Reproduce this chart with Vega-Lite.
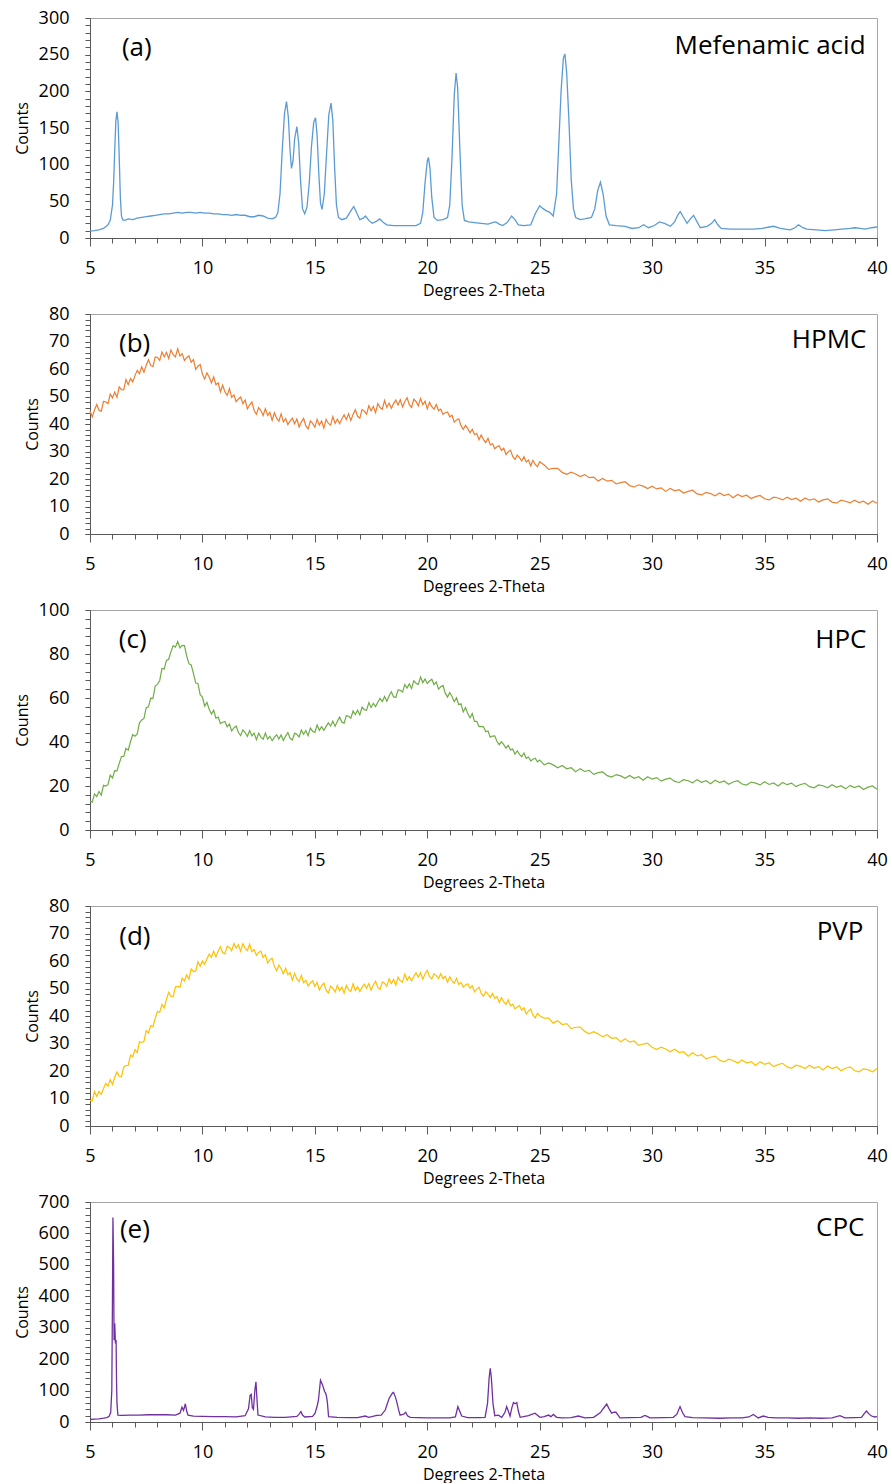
{
"$schema": "https://vega.github.io/schema/vega-lite/v6.json",
"background": "white",
"padding": {"left": 13, "top": 8, "right": 12, "bottom": 0},
"spacing": 5,
"config": {
 "font": "Open Sans",
 "view": {"stroke": "#A6A6A6", "strokeWidth": 1},
 "axis": {"domainColor": "#595959", "tickColor": "#595959", "labelColor": "#000000", "titleColor": "#000000", "labelFont": "Open Sans", "titleFont": "Open Sans", "labelFontSize": 18, "titleFontSize": 16, "titleFontWeight": "normal", "grid": false, "labelOverlap": false, "labelFlush": false, "labelBound": false, "domainWidth": 1, "tickWidth": 1},
 "axisY": {"labelPadding": 16, "titlePadding": 8, "tickSize": 5},
 "axisX": {"labelPadding": 13, "titlePadding": 5},
 "text": {"font": "Open Sans", "color": "#000000", "fontSize": 26}
},
"datasets": {
 "a": [{"x":5.0,"y":9.5},{"x":5.2,"y":10},{"x":5.4,"y":11},{"x":5.6,"y":13},{"x":5.8,"y":18},{"x":5.9,"y":24},{"x":6.0,"y":45},{"x":6.05,"y":75},{"x":6.1,"y":120},{"x":6.15,"y":160},{"x":6.2,"y":172},{"x":6.25,"y":158},{"x":6.3,"y":110},{"x":6.35,"y":55},{"x":6.4,"y":30},{"x":6.45,"y":25},{"x":6.55,"y":24},{"x":6.7,"y":26},{"x":6.9,"y":25},{"x":7.1,"y":27},{"x":7.3,"y":28},{"x":7.5,"y":29},{"x":7.7,"y":30},{"x":7.9,"y":31},{"x":8.1,"y":32},{"x":8.3,"y":33},{"x":8.5,"y":33},{"x":8.7,"y":34},{"x":8.9,"y":35},{"x":9.1,"y":34},{"x":9.3,"y":35},{"x":9.5,"y":35},{"x":9.7,"y":34},{"x":9.9,"y":35},{"x":10.1,"y":34},{"x":10.3,"y":34},{"x":10.5,"y":33},{"x":10.7,"y":33},{"x":10.9,"y":32},{"x":11.1,"y":32},{"x":11.3,"y":31},{"x":11.5,"y":32},{"x":11.7,"y":31},{"x":11.9,"y":31},{"x":12.1,"y":29},{"x":12.3,"y":29},{"x":12.5,"y":31},{"x":12.7,"y":30},{"x":12.9,"y":27},{"x":13.1,"y":26},{"x":13.25,"y":28},{"x":13.35,"y":34},{"x":13.45,"y":60},{"x":13.55,"y":120},{"x":13.65,"y":170},{"x":13.74,"y":186},{"x":13.82,"y":165},{"x":13.9,"y":118},{"x":13.96,"y":95},{"x":14.03,"y":105},{"x":14.1,"y":135},{"x":14.2,"y":152},{"x":14.28,"y":130},{"x":14.36,"y":80},{"x":14.45,"y":40},{"x":14.55,"y":33},{"x":14.65,"y":42},{"x":14.75,"y":75},{"x":14.85,"y":125},{"x":14.95,"y":158},{"x":15.03,"y":164},{"x":15.1,"y":140},{"x":15.18,"y":85},{"x":15.25,"y":48},{"x":15.32,"y":39},{"x":15.42,"y":60},{"x":15.52,"y":115},{"x":15.62,"y":168},{"x":15.72,"y":184},{"x":15.8,"y":160},{"x":15.88,"y":95},{"x":15.96,"y":45},{"x":16.05,"y":28},{"x":16.2,"y":25},{"x":16.4,"y":27},{"x":16.6,"y":37},{"x":16.73,"y":43},{"x":16.85,"y":35},{"x":17.0,"y":25},{"x":17.15,"y":27},{"x":17.25,"y":30},{"x":17.4,"y":24},{"x":17.55,"y":20},{"x":17.75,"y":23},{"x":17.89,"y":26},{"x":18.05,"y":21},{"x":18.2,"y":18},{"x":18.5,"y":17},{"x":19.0,"y":17},{"x":19.5,"y":17},{"x":19.7,"y":20},{"x":19.8,"y":35},{"x":19.9,"y":75},{"x":20.0,"y":105},{"x":20.05,"y":110},{"x":20.12,"y":95},{"x":20.2,"y":55},{"x":20.3,"y":28},{"x":20.45,"y":24},{"x":20.7,"y":25},{"x":20.9,"y":28},{"x":21.0,"y":45},{"x":21.1,"y":110},{"x":21.2,"y":195},{"x":21.28,"y":225},{"x":21.35,"y":205},{"x":21.45,"y":120},{"x":21.55,"y":45},{"x":21.65,"y":24},{"x":21.85,"y":22},{"x":22.1,"y":21},{"x":22.4,"y":20},{"x":22.7,"y":19},{"x":22.9,"y":21},{"x":23.05,"y":22},{"x":23.2,"y":19},{"x":23.35,"y":17},{"x":23.55,"y":21},{"x":23.75,"y":30},{"x":23.9,"y":25},{"x":24.05,"y":18},{"x":24.3,"y":17},{"x":24.6,"y":18},{"x":24.8,"y":33},{"x":25.0,"y":44},{"x":25.15,"y":40},{"x":25.3,"y":37},{"x":25.45,"y":35},{"x":25.6,"y":30},{"x":25.75,"y":60},{"x":25.85,"y":130},{"x":25.95,"y":200},{"x":26.05,"y":245},{"x":26.12,"y":251},{"x":26.2,"y":225},{"x":26.3,"y":160},{"x":26.4,"y":80},{"x":26.5,"y":40},{"x":26.6,"y":28},{"x":26.8,"y":25},{"x":27.0,"y":26},{"x":27.3,"y":28},{"x":27.45,"y":40},{"x":27.58,"y":65},{"x":27.7,"y":76},{"x":27.82,"y":60},{"x":27.95,"y":30},{"x":28.1,"y":18},{"x":28.4,"y":17},{"x":28.8,"y":16},{"x":29.1,"y":13},{"x":29.4,"y":14},{"x":29.62,"y":18},{"x":29.84,"y":14},{"x":30.1,"y":17},{"x":30.32,"y":22},{"x":30.55,"y":20},{"x":30.81,"y":16},{"x":31.0,"y":22},{"x":31.15,"y":32},{"x":31.25,"y":36},{"x":31.4,"y":28},{"x":31.55,"y":20},{"x":31.7,"y":26},{"x":31.84,"y":31},{"x":32.0,"y":22},{"x":32.14,"y":14},{"x":32.44,"y":16},{"x":32.65,"y":20},{"x":32.78,"y":25},{"x":32.92,"y":18},{"x":33.07,"y":13},{"x":33.5,"y":12},{"x":34.0,"y":12},{"x":34.5,"y":12},{"x":34.9,"y":13},{"x":35.2,"y":15},{"x":35.4,"y":16},{"x":35.7,"y":13},{"x":36.14,"y":11},{"x":36.35,"y":14},{"x":36.51,"y":18},{"x":36.7,"y":14},{"x":36.88,"y":12},{"x":37.3,"y":11},{"x":37.7,"y":10},{"x":38.1,"y":11},{"x":38.44,"y":12},{"x":38.8,"y":13},{"x":39.03,"y":14},{"x":39.25,"y":13},{"x":39.48,"y":12},{"x":39.75,"y":14},{"x":40.0,"y":15}],
 "b": [{"x":5.0,"y":44.7},{"x":5.1,"y":42.6},{"x":5.2,"y":45.1},{"x":5.3,"y":47.1},{"x":5.4,"y":45.0},{"x":5.5,"y":44.6},{"x":5.6,"y":48.2},{"x":5.7,"y":48.1},{"x":5.8,"y":47.4},{"x":5.9,"y":50.9},{"x":6.0,"y":49.5},{"x":6.1,"y":51.6},{"x":6.2,"y":49.7},{"x":6.3,"y":53.5},{"x":6.4,"y":52.5},{"x":6.5,"y":52.4},{"x":6.6,"y":56.2},{"x":6.7,"y":54.3},{"x":6.8,"y":56.5},{"x":6.9,"y":55.3},{"x":7.0,"y":57.6},{"x":7.1,"y":59.5},{"x":7.2,"y":58.3},{"x":7.3,"y":60.8},{"x":7.4,"y":58.8},{"x":7.5,"y":61.4},{"x":7.6,"y":63.4},{"x":7.7,"y":61.3},{"x":7.8,"y":60.9},{"x":7.9,"y":64.4},{"x":8.0,"y":64.2},{"x":8.1,"y":63.1},{"x":8.2,"y":66.2},{"x":8.3,"y":64.4},{"x":8.4,"y":66.1},{"x":8.5,"y":63.8},{"x":8.6,"y":66.9},{"x":8.7,"y":65.2},{"x":8.8,"y":64.4},{"x":8.9,"y":67.4},{"x":9.0,"y":64.7},{"x":9.1,"y":65.6},{"x":9.2,"y":63.1},{"x":9.3,"y":64.1},{"x":9.4,"y":64.8},{"x":9.5,"y":62.4},{"x":9.6,"y":63.4},{"x":9.7,"y":59.9},{"x":9.8,"y":61.0},{"x":9.9,"y":61.6},{"x":10.0,"y":58.1},{"x":10.1,"y":56.4},{"x":10.2,"y":58.6},{"x":10.3,"y":57.1},{"x":10.4,"y":55.0},{"x":10.5,"y":57.1},{"x":10.6,"y":54.3},{"x":10.7,"y":55.0},{"x":10.8,"y":51.7},{"x":10.9,"y":54.1},{"x":11.0,"y":51.7},{"x":11.1,"y":50.4},{"x":11.2,"y":52.9},{"x":11.3,"y":49.7},{"x":11.4,"y":50.6},{"x":11.5,"y":48.1},{"x":11.6,"y":49.1},{"x":11.7,"y":49.8},{"x":11.8,"y":47.4},{"x":11.9,"y":48.7},{"x":12.0,"y":45.5},{"x":12.1,"y":47.0},{"x":12.2,"y":48.0},{"x":12.3,"y":44.9},{"x":12.4,"y":43.5},{"x":12.5,"y":46.0},{"x":12.6,"y":44.9},{"x":12.7,"y":43.1},{"x":12.8,"y":45.6},{"x":12.9,"y":43.1},{"x":13.0,"y":44.2},{"x":13.1,"y":41.3},{"x":13.2,"y":44.1},{"x":13.3,"y":42.1},{"x":13.4,"y":41.0},{"x":13.5,"y":43.7},{"x":13.6,"y":40.8},{"x":13.7,"y":42.0},{"x":13.8,"y":39.8},{"x":13.9,"y":41.1},{"x":14.0,"y":42.1},{"x":14.1,"y":40.1},{"x":14.2,"y":41.8},{"x":14.3,"y":38.9},{"x":14.4,"y":40.7},{"x":14.5,"y":42.0},{"x":14.6,"y":39.3},{"x":14.7,"y":38.2},{"x":14.8,"y":41.1},{"x":14.9,"y":40.2},{"x":15.0,"y":38.8},{"x":15.1,"y":41.7},{"x":15.2,"y":39.6},{"x":15.3,"y":41.1},{"x":15.4,"y":38.5},{"x":15.5,"y":41.7},{"x":15.6,"y":40.2},{"x":15.7,"y":39.6},{"x":15.8,"y":42.7},{"x":15.9,"y":40.2},{"x":16.0,"y":41.8},{"x":16.1,"y":40.1},{"x":16.2,"y":41.8},{"x":16.3,"y":43.3},{"x":16.4,"y":41.6},{"x":16.5,"y":43.7},{"x":16.6,"y":41.3},{"x":16.7,"y":43.5},{"x":16.8,"y":45.2},{"x":16.9,"y":42.8},{"x":17.0,"y":42.1},{"x":17.1,"y":45.3},{"x":17.2,"y":44.7},{"x":17.3,"y":43.6},{"x":17.4,"y":46.6},{"x":17.5,"y":44.8},{"x":17.6,"y":46.4},{"x":17.7,"y":44.1},{"x":17.8,"y":47.4},{"x":17.9,"y":46.0},{"x":18.0,"y":45.4},{"x":18.1,"y":48.6},{"x":18.2,"y":46.0},{"x":18.3,"y":47.6},{"x":18.4,"y":45.7},{"x":18.5,"y":47.4},{"x":18.6,"y":48.7},{"x":18.7,"y":46.9},{"x":18.8,"y":48.8},{"x":18.9,"y":46.2},{"x":19.0,"y":48.2},{"x":19.1,"y":49.6},{"x":19.2,"y":47.0},{"x":19.3,"y":46.0},{"x":19.4,"y":49.0},{"x":19.5,"y":48.2},{"x":19.6,"y":46.6},{"x":19.7,"y":49.3},{"x":19.8,"y":47.0},{"x":19.9,"y":48.3},{"x":20.0,"y":45.5},{"x":20.1,"y":47.9},{"x":20.2,"y":46.3},{"x":20.3,"y":45.4},{"x":20.4,"y":47.1},{"x":20.5,"y":44.9},{"x":20.6,"y":45.4},{"x":20.7,"y":43.5},{"x":20.8,"y":44.1},{"x":20.9,"y":44.4},{"x":21.0,"y":42.6},{"x":21.1,"y":43.2},{"x":21.2,"y":40.7},{"x":21.3,"y":41.5},{"x":21.4,"y":41.9},{"x":21.5,"y":39.4},{"x":21.6,"y":38.1},{"x":21.7,"y":39.5},{"x":21.8,"y":38.3},{"x":21.9,"y":36.8},{"x":22.0,"y":38.1},{"x":22.1,"y":36.1},{"x":22.2,"y":36.6},{"x":22.3,"y":34.3},{"x":22.4,"y":36.0},{"x":22.5,"y":34.3},{"x":22.6,"y":33.2},{"x":22.7,"y":34.8},{"x":22.8,"y":32.4},{"x":22.9,"y":32.9},{"x":23.0,"y":31.0},{"x":23.1,"y":31.7},{"x":23.2,"y":32.1},{"x":23.3,"y":30.4},{"x":23.4,"y":31.2},{"x":23.5,"y":28.9},{"x":23.6,"y":29.9},{"x":23.7,"y":30.5},{"x":23.8,"y":28.2},{"x":23.9,"y":27.1},{"x":24.0,"y":28.7},{"x":24.1,"y":27.8},{"x":24.2,"y":26.5},{"x":24.3,"y":28.1},{"x":24.4,"y":26.2},{"x":24.5,"y":26.9},{"x":24.6,"y":24.8},{"x":24.7,"y":26.8},{"x":24.8,"y":25.3},{"x":24.9,"y":24.5},{"x":25.0,"y":26.3},{"x":25.2,"y":25.1},{"x":25.4,"y":23.5},{"x":25.6,"y":23.9},{"x":25.8,"y":23.9},{"x":26.0,"y":22.4},{"x":26.2,"y":21.7},{"x":26.4,"y":22.5},{"x":26.6,"y":21.8},{"x":26.8,"y":20.9},{"x":27.0,"y":21.6},{"x":27.2,"y":20.5},{"x":27.4,"y":20.7},{"x":27.6,"y":19.3},{"x":27.8,"y":20.2},{"x":28.0,"y":19.2},{"x":28.2,"y":19.5},{"x":28.4,"y":18.2},{"x":28.6,"y":18.7},{"x":28.8,"y":19.0},{"x":29.0,"y":17.6},{"x":29.2,"y":17.1},{"x":29.4,"y":17.9},{"x":29.6,"y":17.4},{"x":29.8,"y":16.5},{"x":30.0,"y":17.4},{"x":30.2,"y":16.4},{"x":30.4,"y":16.8},{"x":30.6,"y":15.5},{"x":30.8,"y":16.6},{"x":31.0,"y":15.7},{"x":31.2,"y":16.1},{"x":31.4,"y":14.9},{"x":31.6,"y":15.5},{"x":31.8,"y":15.9},{"x":32.0,"y":14.6},{"x":32.2,"y":14.2},{"x":32.4,"y":15.1},{"x":32.6,"y":14.7},{"x":32.8,"y":13.9},{"x":33.0,"y":14.9},{"x":33.2,"y":14.0},{"x":33.4,"y":14.5},{"x":33.6,"y":13.2},{"x":33.8,"y":14.4},{"x":34.0,"y":13.6},{"x":34.2,"y":14.1},{"x":34.4,"y":12.9},{"x":34.6,"y":13.6},{"x":34.8,"y":14.0},{"x":35.0,"y":12.8},{"x":35.2,"y":12.4},{"x":35.4,"y":13.4},{"x":35.6,"y":13.1},{"x":35.8,"y":12.4},{"x":36.0,"y":13.4},{"x":36.2,"y":12.5},{"x":36.4,"y":13.0},{"x":36.6,"y":11.9},{"x":36.8,"y":13.1},{"x":37.0,"y":12.3},{"x":37.2,"y":12.8},{"x":37.4,"y":11.6},{"x":37.6,"y":12.4},{"x":37.8,"y":12.8},{"x":38.0,"y":11.6},{"x":38.2,"y":11.2},{"x":38.4,"y":12.3},{"x":38.6,"y":11.9},{"x":38.8,"y":11.3},{"x":39.0,"y":12.3},{"x":39.2,"y":11.4},{"x":39.4,"y":11.9},{"x":39.6,"y":10.8},{"x":39.8,"y":12.0},{"x":40.0,"y":11.2}],
 "c": [{"x":5.0,"y":13.2},{"x":5.1,"y":12.7},{"x":5.2,"y":16.4},{"x":5.3,"y":15.2},{"x":5.4,"y":17.5},{"x":5.5,"y":15.8},{"x":5.6,"y":20.3},{"x":5.7,"y":20.0},{"x":5.8,"y":20.6},{"x":5.9,"y":25.0},{"x":6.0,"y":23.7},{"x":6.1,"y":27.0},{"x":6.2,"y":26.9},{"x":6.3,"y":30.3},{"x":6.4,"y":33.4},{"x":6.5,"y":33.4},{"x":6.6,"y":37.1},{"x":6.7,"y":36.3},{"x":6.8,"y":40.1},{"x":6.9,"y":43.4},{"x":7.0,"y":42.6},{"x":7.1,"y":43.7},{"x":7.2,"y":48.7},{"x":7.3,"y":50.0},{"x":7.4,"y":50.7},{"x":7.5,"y":55.6},{"x":7.6,"y":56.0},{"x":7.7,"y":59.9},{"x":7.8,"y":59.8},{"x":7.9,"y":65.4},{"x":8.0,"y":66.2},{"x":8.1,"y":67.9},{"x":8.2,"y":73.4},{"x":8.3,"y":73.2},{"x":8.4,"y":77.1},{"x":8.5,"y":77.6},{"x":8.6,"y":81.1},{"x":8.7,"y":83.8},{"x":8.8,"y":83.1},{"x":8.9,"y":85.7},{"x":9.0,"y":82.8},{"x":9.1,"y":83.9},{"x":9.2,"y":83.8},{"x":9.3,"y":79.1},{"x":9.4,"y":75.6},{"x":9.5,"y":75.0},{"x":9.6,"y":71.2},{"x":9.7,"y":66.8},{"x":9.8,"y":66.6},{"x":9.9,"y":61.5},{"x":10.0,"y":60.4},{"x":10.1,"y":56.3},{"x":10.2,"y":58.0},{"x":10.3,"y":54.9},{"x":10.4,"y":52.7},{"x":10.5,"y":54.4},{"x":10.6,"y":50.8},{"x":10.7,"y":51.3},{"x":10.8,"y":48.4},{"x":10.9,"y":49.0},{"x":11.0,"y":49.3},{"x":11.1,"y":46.9},{"x":11.2,"y":48.2},{"x":11.3,"y":45.0},{"x":11.4,"y":46.4},{"x":11.5,"y":47.3},{"x":11.6,"y":44.3},{"x":11.7,"y":42.9},{"x":11.8,"y":45.5},{"x":11.9,"y":44.3},{"x":12.0,"y":42.6},{"x":12.1,"y":45.2},{"x":12.2,"y":42.8},{"x":12.3,"y":44.0},{"x":12.4,"y":41.1},{"x":12.5,"y":44.0},{"x":12.6,"y":42.2},{"x":12.7,"y":41.3},{"x":12.8,"y":44.1},{"x":12.9,"y":41.3},{"x":13.0,"y":42.6},{"x":13.1,"y":40.6},{"x":13.2,"y":42.1},{"x":13.3,"y":43.3},{"x":13.4,"y":41.4},{"x":13.5,"y":43.2},{"x":13.6,"y":40.7},{"x":13.7,"y":42.7},{"x":13.8,"y":44.3},{"x":13.9,"y":41.7},{"x":14.0,"y":40.9},{"x":14.1,"y":44.0},{"x":14.2,"y":43.5},{"x":14.3,"y":42.3},{"x":14.4,"y":45.4},{"x":14.5,"y":43.5},{"x":14.6,"y":45.2},{"x":14.7,"y":42.9},{"x":14.8,"y":46.3},{"x":14.9,"y":44.9},{"x":15.0,"y":44.4},{"x":15.1,"y":47.7},{"x":15.2,"y":45.3},{"x":15.3,"y":47.0},{"x":15.4,"y":45.3},{"x":15.5,"y":47.1},{"x":15.6,"y":48.7},{"x":15.7,"y":47.2},{"x":15.8,"y":49.4},{"x":15.9,"y":47.1},{"x":16.0,"y":49.4},{"x":16.1,"y":51.3},{"x":16.2,"y":49.1},{"x":16.3,"y":48.6},{"x":16.4,"y":52.0},{"x":16.5,"y":51.7},{"x":16.6,"y":50.8},{"x":16.7,"y":54.1},{"x":16.8,"y":52.5},{"x":16.9,"y":54.4},{"x":17.0,"y":52.3},{"x":17.1,"y":55.9},{"x":17.2,"y":54.7},{"x":17.3,"y":54.4},{"x":17.4,"y":57.9},{"x":17.5,"y":55.7},{"x":17.6,"y":57.6},{"x":17.7,"y":56.1},{"x":17.8,"y":58.1},{"x":17.9,"y":59.8},{"x":18.0,"y":58.4},{"x":18.1,"y":60.7},{"x":18.2,"y":58.5},{"x":18.3,"y":60.9},{"x":18.4,"y":62.8},{"x":18.5,"y":60.6},{"x":18.6,"y":60.2},{"x":18.7,"y":63.7},{"x":18.8,"y":63.5},{"x":18.9,"y":62.7},{"x":19.0,"y":66.1},{"x":19.1,"y":64.5},{"x":19.2,"y":66.4},{"x":19.3,"y":64.3},{"x":19.4,"y":67.9},{"x":19.5,"y":66.7},{"x":19.6,"y":66.2},{"x":19.7,"y":69.5},{"x":19.8,"y":67.0},{"x":19.9,"y":68.6},{"x":20.0,"y":66.6},{"x":20.1,"y":67.7},{"x":20.2,"y":68.5},{"x":20.3,"y":66.1},{"x":20.4,"y":67.3},{"x":20.5,"y":64.0},{"x":20.6,"y":65.1},{"x":20.7,"y":65.7},{"x":20.8,"y":62.2},{"x":20.9,"y":60.4},{"x":21.0,"y":62.5},{"x":21.1,"y":60.7},{"x":21.2,"y":58.3},{"x":21.3,"y":60.1},{"x":21.4,"y":57.0},{"x":21.5,"y":57.4},{"x":21.6,"y":53.7},{"x":21.7,"y":55.7},{"x":21.8,"y":52.9},{"x":21.9,"y":51.0},{"x":22.0,"y":52.9},{"x":22.1,"y":49.4},{"x":22.2,"y":49.4},{"x":22.3,"y":47.0},{"x":22.4,"y":47.1},{"x":22.5,"y":46.9},{"x":22.6,"y":44.7},{"x":22.7,"y":45.0},{"x":22.8,"y":42.2},{"x":22.9,"y":42.7},{"x":23.0,"y":42.8},{"x":23.1,"y":40.2},{"x":23.2,"y":38.8},{"x":23.3,"y":40.1},{"x":23.4,"y":38.8},{"x":23.5,"y":37.2},{"x":23.6,"y":38.5},{"x":23.7,"y":36.4},{"x":23.8,"y":36.8},{"x":23.9,"y":34.4},{"x":24.0,"y":36.0},{"x":24.1,"y":34.4},{"x":24.2,"y":33.3},{"x":24.3,"y":35.0},{"x":24.4,"y":32.6},{"x":24.5,"y":33.2},{"x":24.6,"y":31.4},{"x":24.7,"y":32.2},{"x":24.8,"y":32.6},{"x":24.9,"y":31.0},{"x":25.0,"y":31.8},{"x":25.2,"y":29.6},{"x":25.4,"y":30.5},{"x":25.6,"y":29.6},{"x":25.8,"y":28.3},{"x":26.0,"y":29.3},{"x":26.2,"y":27.8},{"x":26.4,"y":28.3},{"x":26.6,"y":26.5},{"x":26.8,"y":27.9},{"x":27.0,"y":26.6},{"x":27.2,"y":27.1},{"x":27.4,"y":25.3},{"x":27.6,"y":26.1},{"x":27.8,"y":26.4},{"x":28.0,"y":24.7},{"x":28.2,"y":24.1},{"x":28.4,"y":25.2},{"x":28.6,"y":24.6},{"x":28.8,"y":23.5},{"x":29.0,"y":24.8},{"x":29.2,"y":23.5},{"x":29.4,"y":24.2},{"x":29.6,"y":22.6},{"x":29.8,"y":24.2},{"x":30.0,"y":23.1},{"x":30.2,"y":23.8},{"x":30.4,"y":22.2},{"x":30.6,"y":23.1},{"x":30.8,"y":23.6},{"x":31.0,"y":22.1},{"x":31.2,"y":21.6},{"x":31.4,"y":22.9},{"x":31.6,"y":22.4},{"x":31.8,"y":21.5},{"x":32.0,"y":22.9},{"x":32.2,"y":21.7},{"x":32.4,"y":22.4},{"x":32.6,"y":21.0},{"x":32.8,"y":22.6},{"x":33.0,"y":21.6},{"x":33.2,"y":22.3},{"x":33.4,"y":20.8},{"x":33.6,"y":21.8},{"x":33.8,"y":22.4},{"x":34.0,"y":20.9},{"x":34.2,"y":20.4},{"x":34.4,"y":21.8},{"x":34.6,"y":21.3},{"x":34.8,"y":20.5},{"x":35.0,"y":21.9},{"x":35.2,"y":20.7},{"x":35.4,"y":21.4},{"x":35.6,"y":20.0},{"x":35.8,"y":21.6},{"x":36.0,"y":20.6},{"x":36.2,"y":21.3},{"x":36.4,"y":19.7},{"x":36.6,"y":20.7},{"x":36.8,"y":21.2},{"x":37.0,"y":19.7},{"x":37.2,"y":19.2},{"x":37.4,"y":20.5},{"x":37.6,"y":20.1},{"x":37.8,"y":19.2},{"x":38.0,"y":20.6},{"x":38.2,"y":19.4},{"x":38.4,"y":20.1},{"x":38.6,"y":18.7},{"x":38.8,"y":20.3},{"x":39.0,"y":19.3},{"x":39.2,"y":20.0},{"x":39.4,"y":18.4},{"x":39.6,"y":19.5},{"x":39.8,"y":20.0},{"x":40.0,"y":18.5}],
 "d": [{"x":5.0,"y":9.2},{"x":5.1,"y":9.2},{"x":5.2,"y":12.5},{"x":5.3,"y":10.8},{"x":5.4,"y":12.6},{"x":5.5,"y":11.5},{"x":5.6,"y":13.6},{"x":5.7,"y":15.5},{"x":5.8,"y":14.5},{"x":5.9,"y":16.9},{"x":6.0,"y":15.1},{"x":6.1,"y":17.7},{"x":6.2,"y":19.7},{"x":6.3,"y":18.1},{"x":6.4,"y":18.0},{"x":6.5,"y":21.4},{"x":6.6,"y":22.0},{"x":6.7,"y":22.0},{"x":6.8,"y":25.8},{"x":6.9,"y":25.2},{"x":7.0,"y":27.8},{"x":7.1,"y":26.7},{"x":7.2,"y":30.7},{"x":7.3,"y":30.3},{"x":7.4,"y":30.8},{"x":7.5,"y":34.7},{"x":7.6,"y":33.8},{"x":7.7,"y":36.5},{"x":7.8,"y":36.2},{"x":7.9,"y":39.1},{"x":8.0,"y":41.7},{"x":8.1,"y":41.3},{"x":8.2,"y":44.2},{"x":8.3,"y":43.0},{"x":8.4,"y":46.1},{"x":8.5,"y":48.6},{"x":8.6,"y":47.1},{"x":8.7,"y":47.1},{"x":8.8,"y":50.6},{"x":8.9,"y":50.8},{"x":9.0,"y":50.4},{"x":9.1,"y":53.8},{"x":9.2,"y":52.7},{"x":9.3,"y":54.9},{"x":9.4,"y":53.4},{"x":9.5,"y":57.1},{"x":9.6,"y":56.2},{"x":9.7,"y":56.3},{"x":9.8,"y":59.7},{"x":9.9,"y":58.1},{"x":10.0,"y":60.0},{"x":10.1,"y":58.8},{"x":10.2,"y":60.8},{"x":10.3,"y":62.5},{"x":10.4,"y":61.4},{"x":10.5,"y":63.6},{"x":10.6,"y":61.5},{"x":10.7,"y":63.6},{"x":10.8,"y":65.2},{"x":10.9,"y":63.1},{"x":11.0,"y":62.6},{"x":11.1,"y":65.4},{"x":11.2,"y":64.9},{"x":11.3,"y":63.7},{"x":11.4,"y":66.4},{"x":11.5,"y":64.7},{"x":11.6,"y":65.9},{"x":11.7,"y":63.5},{"x":11.8,"y":66.3},{"x":11.9,"y":64.6},{"x":12.0,"y":63.8},{"x":12.1,"y":66.1},{"x":12.2,"y":63.4},{"x":12.3,"y":64.2},{"x":12.4,"y":62.1},{"x":12.5,"y":63.1},{"x":12.6,"y":63.6},{"x":12.7,"y":61.3},{"x":12.8,"y":62.3},{"x":12.9,"y":59.2},{"x":13.0,"y":60.4},{"x":13.1,"y":61.0},{"x":13.2,"y":58.0},{"x":13.3,"y":56.5},{"x":13.4,"y":58.5},{"x":13.5,"y":57.2},{"x":13.6,"y":55.4},{"x":13.7,"y":57.4},{"x":13.8,"y":55.0},{"x":13.9,"y":55.8},{"x":14.0,"y":53.0},{"x":14.1,"y":55.5},{"x":14.2,"y":53.5},{"x":14.3,"y":52.5},{"x":14.4,"y":54.8},{"x":14.5,"y":52.1},{"x":14.6,"y":53.0},{"x":14.7,"y":50.9},{"x":14.8,"y":52.0},{"x":14.9,"y":52.8},{"x":15.0,"y":50.8},{"x":15.1,"y":52.2},{"x":15.2,"y":49.5},{"x":15.3,"y":51.0},{"x":15.4,"y":52.0},{"x":15.5,"y":49.4},{"x":15.6,"y":48.4},{"x":15.7,"y":50.9},{"x":15.8,"y":50.1},{"x":15.9,"y":48.7},{"x":16.0,"y":51.1},{"x":16.1,"y":49.2},{"x":16.2,"y":50.5},{"x":16.3,"y":48.3},{"x":16.4,"y":51.1},{"x":16.5,"y":49.5},{"x":16.6,"y":48.9},{"x":16.7,"y":51.7},{"x":16.8,"y":49.3},{"x":16.9,"y":50.6},{"x":17.0,"y":48.9},{"x":17.1,"y":50.4},{"x":17.2,"y":51.6},{"x":17.3,"y":50.1},{"x":17.4,"y":51.8},{"x":17.5,"y":49.4},{"x":17.6,"y":51.3},{"x":17.7,"y":52.7},{"x":17.8,"y":50.4},{"x":17.9,"y":49.7},{"x":18.0,"y":52.4},{"x":18.1,"y":51.9},{"x":18.2,"y":50.8},{"x":18.3,"y":53.5},{"x":18.4,"y":51.8},{"x":18.5,"y":53.3},{"x":18.6,"y":51.2},{"x":18.7,"y":54.2},{"x":18.8,"y":52.8},{"x":18.9,"y":52.3},{"x":19.0,"y":55.2},{"x":19.1,"y":53.0},{"x":19.2,"y":54.4},{"x":19.3,"y":52.8},{"x":19.4,"y":54.4},{"x":19.5,"y":55.7},{"x":19.6,"y":54.1},{"x":19.7,"y":55.8},{"x":19.8,"y":53.4},{"x":19.9,"y":55.3},{"x":20.0,"y":56.6},{"x":20.1,"y":54.3},{"x":20.2,"y":53.5},{"x":20.3,"y":55.4},{"x":20.4,"y":54.7},{"x":20.5,"y":53.7},{"x":20.6,"y":55.4},{"x":20.7,"y":53.6},{"x":20.8,"y":54.4},{"x":20.9,"y":52.3},{"x":21.0,"y":54.3},{"x":21.1,"y":52.8},{"x":21.2,"y":51.9},{"x":21.3,"y":53.7},{"x":21.4,"y":51.5},{"x":21.5,"y":52.2},{"x":21.6,"y":50.5},{"x":21.7,"y":51.3},{"x":21.8,"y":51.7},{"x":21.9,"y":50.1},{"x":22.0,"y":51.0},{"x":22.1,"y":48.8},{"x":22.2,"y":49.8},{"x":22.3,"y":50.5},{"x":22.4,"y":48.2},{"x":22.5,"y":47.2},{"x":22.6,"y":48.9},{"x":22.7,"y":47.9},{"x":22.8,"y":46.7},{"x":22.9,"y":48.2},{"x":23.0,"y":46.4},{"x":23.1,"y":47.0},{"x":23.2,"y":44.9},{"x":23.3,"y":46.7},{"x":23.4,"y":45.2},{"x":23.5,"y":44.2},{"x":23.6,"y":45.9},{"x":23.7,"y":43.7},{"x":23.8,"y":44.3},{"x":23.9,"y":42.6},{"x":24.0,"y":43.3},{"x":24.1,"y":43.8},{"x":24.2,"y":42.1},{"x":24.3,"y":43.0},{"x":24.4,"y":40.7},{"x":24.5,"y":41.8},{"x":24.6,"y":42.5},{"x":24.7,"y":40.3},{"x":24.8,"y":39.3},{"x":24.9,"y":41.0},{"x":25.0,"y":40.1},{"x":25.2,"y":39.2},{"x":25.4,"y":39.2},{"x":25.6,"y":37.4},{"x":25.8,"y":38.3},{"x":26.0,"y":36.9},{"x":26.2,"y":37.2},{"x":26.4,"y":35.4},{"x":26.6,"y":35.9},{"x":26.8,"y":36.0},{"x":27.0,"y":34.4},{"x":27.2,"y":33.5},{"x":27.4,"y":34.3},{"x":27.6,"y":33.5},{"x":27.8,"y":32.4},{"x":28.0,"y":33.2},{"x":28.2,"y":31.9},{"x":28.4,"y":32.1},{"x":28.6,"y":30.6},{"x":28.8,"y":31.7},{"x":29.0,"y":30.5},{"x":29.2,"y":30.9},{"x":29.4,"y":29.3},{"x":29.6,"y":29.8},{"x":29.8,"y":30.1},{"x":30.0,"y":28.6},{"x":30.2,"y":27.8},{"x":30.4,"y":28.7},{"x":30.6,"y":28.0},{"x":30.8,"y":27.0},{"x":31.0,"y":27.9},{"x":31.2,"y":26.7},{"x":31.4,"y":27.0},{"x":31.6,"y":25.4},{"x":31.8,"y":26.6},{"x":32.0,"y":25.5},{"x":32.2,"y":25.9},{"x":32.4,"y":24.4},{"x":32.6,"y":25.0},{"x":32.8,"y":25.4},{"x":33.0,"y":23.9},{"x":33.2,"y":23.3},{"x":33.4,"y":24.3},{"x":33.6,"y":23.8},{"x":33.8,"y":22.9},{"x":34.0,"y":24.0},{"x":34.2,"y":22.9},{"x":34.4,"y":23.4},{"x":34.6,"y":22.0},{"x":34.8,"y":23.4},{"x":35.0,"y":22.4},{"x":35.2,"y":23.0},{"x":35.4,"y":21.6},{"x":35.6,"y":22.3},{"x":35.8,"y":22.8},{"x":36.0,"y":21.5},{"x":36.2,"y":21.0},{"x":36.4,"y":22.1},{"x":36.6,"y":21.7},{"x":36.8,"y":20.9},{"x":37.0,"y":22.1},{"x":37.2,"y":21.1},{"x":37.4,"y":21.6},{"x":37.6,"y":20.4},{"x":37.8,"y":21.8},{"x":38.0,"y":20.9},{"x":38.2,"y":21.5},{"x":38.4,"y":20.1},{"x":38.6,"y":21.0},{"x":38.8,"y":21.5},{"x":39.0,"y":20.2},{"x":39.2,"y":19.7},{"x":39.4,"y":20.8},{"x":39.6,"y":20.5},{"x":39.8,"y":19.7},{"x":40.0,"y":20.9}],
 "e": [{"x":5.0,"y":8},{"x":5.2,"y":9},{"x":5.4,"y":10},{"x":5.6,"y":12},{"x":5.75,"y":14},{"x":5.85,"y":18},{"x":5.92,"y":30},{"x":5.97,"y":100},{"x":6.0,"y":400},{"x":6.02,"y":651},{"x":6.05,"y":500},{"x":6.07,"y":260},{"x":6.1,"y":314},{"x":6.13,"y":250},{"x":6.16,"y":261},{"x":6.18,"y":128},{"x":6.2,"y":60},{"x":6.24,"y":22},{"x":6.4,"y":21},{"x":6.8,"y":22},{"x":7.2,"y":22},{"x":7.6,"y":23},{"x":8.0,"y":23},{"x":8.4,"y":23},{"x":8.8,"y":22},{"x":9.0,"y":28},{"x":9.09,"y":47},{"x":9.16,"y":37},{"x":9.24,"y":58},{"x":9.3,"y":35},{"x":9.36,"y":22},{"x":9.6,"y":19},{"x":10.0,"y":18},{"x":10.5,"y":17},{"x":11.0,"y":17},{"x":11.5,"y":16},{"x":11.9,"y":20},{"x":12.05,"y":43},{"x":12.12,"y":85},{"x":12.17,"y":88},{"x":12.22,"y":45},{"x":12.27,"y":40},{"x":12.33,"y":100},{"x":12.38,"y":128},{"x":12.42,"y":80},{"x":12.47,"y":22},{"x":12.8,"y":16},{"x":13.2,"y":15},{"x":13.68,"y":15},{"x":14.2,"y":18},{"x":14.3,"y":25},{"x":14.38,"y":33},{"x":14.45,"y":22},{"x":14.55,"y":16},{"x":14.9,"y":18},{"x":15.01,"y":28},{"x":15.1,"y":50},{"x":15.16,"y":70},{"x":15.25,"y":133},{"x":15.3,"y":125},{"x":15.34,"y":118},{"x":15.4,"y":105},{"x":15.43,"y":97},{"x":15.48,"y":92},{"x":15.52,"y":81},{"x":15.56,"y":60},{"x":15.61,"y":17},{"x":16.0,"y":15},{"x":16.5,"y":14},{"x":16.9,"y":14},{"x":17.24,"y":19},{"x":17.4,"y":15},{"x":17.76,"y":21},{"x":17.95,"y":22},{"x":18.13,"y":38},{"x":18.3,"y":75},{"x":18.45,"y":92},{"x":18.5,"y":94},{"x":18.58,"y":80},{"x":18.64,"y":65},{"x":18.72,"y":40},{"x":18.79,"y":22},{"x":18.95,"y":25},{"x":19.04,"y":31},{"x":19.12,"y":20},{"x":19.24,"y":15},{"x":19.6,"y":14},{"x":20.0,"y":13},{"x":20.5,"y":13},{"x":21.0,"y":13},{"x":21.25,"y":16},{"x":21.36,"y":49},{"x":21.44,"y":35},{"x":21.53,"y":19},{"x":21.8,"y":14},{"x":22.3,"y":14},{"x":22.57,"y":15},{"x":22.68,"y":60},{"x":22.75,"y":140},{"x":22.8,"y":171},{"x":22.85,"y":140},{"x":22.92,"y":60},{"x":23.0,"y":20},{"x":23.16,"y":22},{"x":23.31,"y":15},{"x":23.45,"y":30},{"x":23.53,"y":49},{"x":23.6,"y":35},{"x":23.68,"y":19},{"x":23.76,"y":45},{"x":23.83,"y":62},{"x":23.9,"y":58},{"x":23.98,"y":62},{"x":24.05,"y":35},{"x":24.13,"y":15},{"x":24.5,"y":20},{"x":24.79,"y":28},{"x":25.01,"y":15},{"x":25.2,"y":17},{"x":25.39,"y":22},{"x":25.5,"y":17},{"x":25.61,"y":24},{"x":25.75,"y":15},{"x":25.98,"y":13},{"x":26.4,"y":14},{"x":26.72,"y":19},{"x":27.01,"y":13},{"x":27.4,"y":15},{"x":27.7,"y":30},{"x":27.83,"y":43},{"x":27.98,"y":57},{"x":28.1,"y":40},{"x":28.2,"y":28},{"x":28.3,"y":31},{"x":28.39,"y":31},{"x":28.5,"y":20},{"x":28.57,"y":13},{"x":29.0,"y":14},{"x":29.5,"y":15},{"x":29.68,"y":21},{"x":29.8,"y":17},{"x":29.9,"y":13},{"x":30.5,"y":14},{"x":30.94,"y":15},{"x":31.1,"y":25},{"x":31.24,"y":49},{"x":31.35,"y":30},{"x":31.46,"y":17},{"x":31.8,"y":14},{"x":32.3,"y":13},{"x":33.0,"y":12},{"x":33.5,"y":13},{"x":34.0,"y":13},{"x":34.3,"y":16},{"x":34.5,"y":24},{"x":34.72,"y":13},{"x":34.94,"y":19},{"x":35.16,"y":15},{"x":35.5,"y":13},{"x":36.0,"y":13},{"x":36.5,"y":12},{"x":37.0,"y":13},{"x":37.5,"y":12},{"x":38.0,"y":13},{"x":38.35,"y":20},{"x":38.57,"y":13},{"x":39.0,"y":14},{"x":39.31,"y":15},{"x":39.45,"y":28},{"x":39.53,"y":35},{"x":39.65,"y":25},{"x":39.76,"y":19},{"x":39.9,"y":16},{"x":40.0,"y":17}]
},
"vconcat": [
 {"width": 787, "height": 220, "resolve": {"axis": {"x": "independent", "y": "independent"}}, "layer": [
  {"data": {"name": "a"}, "mark": {"type": "line", "color": "#5B9BD5", "strokeWidth": 1.3},
   "encoding": {
    "x": {"field": "x", "type": "quantitative", "scale": {"domain": [5, 40], "nice": false, "zero": false}, "axis": {"title": "Degrees 2-Theta", "values": [5,10,15,20,25,30,35,40], "tickSize": 8}},
    "y": {"field": "y", "type": "quantitative", "scale": {"domain": [0, 300], "nice": false}, "axis": {"title": "Counts", "values": [0,50,100,150,200,250,300]}}
   }},
  {"data": {"values": [{"t": "(a)", "x": 6.42, "y": 259}]}, "mark": {"type": "text", "align": "left", "baseline": "middle"},
   "encoding": {
    "x": {"field": "x", "type": "quantitative", "axis": {"orient": "bottom", "title": null, "labels": false, "domain": false, "tickSize": 5, "values": [5,6,7,8,9,10,11,12,13,14,15,16,17,18,19,20,21,22,23,24,25,26,27,28,29,30,31,32,33,34,35,36,37,38,39,40]}},
    "y": {"field": "y", "type": "quantitative", "axis": {"orient": "left", "title": null, "labels": false, "domain": false, "tickSize": 5, "values": [0,10,20,30,40,50,60,70,80,90,100,110,120,130,140,150,160,170,180,190,200,210,220,230,240,250,260,270,280,290,300]}},
    "text": {"field": "t"}}},
  {"data": {"values": [{"t": "Mefenamic acid", "x": 39.49, "y": 262}]}, "mark": {"type": "text", "align": "right", "baseline": "middle"},
   "encoding": {"x": {"field": "x", "type": "quantitative", "axis": null}, "y": {"field": "y", "type": "quantitative", "axis": null}, "text": {"field": "t"}}}
 ]},
 {"width": 787, "height": 220, "resolve": {"axis": {"x": "independent", "y": "independent"}}, "layer": [
  {"data": {"name": "b"}, "mark": {"type": "line", "color": "#ED7D31", "strokeWidth": 1.2},
   "encoding": {
    "x": {"field": "x", "type": "quantitative", "scale": {"domain": [5, 40], "nice": false, "zero": false}, "axis": {"title": "Degrees 2-Theta", "values": [5,10,15,20,25,30,35,40], "tickSize": 8}},
    "y": {"field": "y", "type": "quantitative", "scale": {"domain": [0, 80], "nice": false}, "axis": {"title": "Counts", "values": [0,10,20,30,40,50,60,70,80]}}
   }},
  {"data": {"values": [{"t": "(b)", "x": 6.29, "y": 69}]}, "mark": {"type": "text", "align": "left", "baseline": "middle"},
   "encoding": {
    "x": {"field": "x", "type": "quantitative", "axis": {"orient": "bottom", "title": null, "labels": false, "domain": false, "tickSize": 5, "values": [5,6,7,8,9,10,11,12,13,14,15,16,17,18,19,20,21,22,23,24,25,26,27,28,29,30,31,32,33,34,35,36,37,38,39,40]}},
    "y": {"field": "y", "type": "quantitative", "axis": {"orient": "left", "title": null, "labels": false, "domain": false, "tickSize": 5, "values": [0,2,4,6,8,10,12,14,16,18,20,22,24,26,28,30,32,34,36,38,40,42,44,46,48,50,52,54,56,58,60,62,64,66,68,70,72,74,76,78,80]}},
    "text": {"field": "t"}}},
  {"data": {"values": [{"t": "HPMC", "x": 39.53, "y": 70.5}]}, "mark": {"type": "text", "align": "right", "baseline": "middle"},
   "encoding": {"x": {"field": "x", "type": "quantitative", "axis": null}, "y": {"field": "y", "type": "quantitative", "axis": null}, "text": {"field": "t"}}}
 ]},
 {"width": 787, "height": 220, "resolve": {"axis": {"x": "independent", "y": "independent"}}, "layer": [
  {"data": {"name": "c"}, "mark": {"type": "line", "color": "#70AD47", "strokeWidth": 1.2},
   "encoding": {
    "x": {"field": "x", "type": "quantitative", "scale": {"domain": [5, 40], "nice": false, "zero": false}, "axis": {"title": "Degrees 2-Theta", "values": [5,10,15,20,25,30,35,40], "tickSize": 8}},
    "y": {"field": "y", "type": "quantitative", "scale": {"domain": [0, 100], "nice": false}, "axis": {"title": "Counts", "values": [0,20,40,60,80,100]}}
   }},
  {"data": {"values": [{"t": "(c)", "x": 6.28, "y": 86.3}]}, "mark": {"type": "text", "align": "left", "baseline": "middle"},
   "encoding": {
    "x": {"field": "x", "type": "quantitative", "axis": {"orient": "bottom", "title": null, "labels": false, "domain": false, "tickSize": 5, "values": [5,6,7,8,9,10,11,12,13,14,15,16,17,18,19,20,21,22,23,24,25,26,27,28,29,30,31,32,33,34,35,36,37,38,39,40]}},
    "y": {"field": "y", "type": "quantitative", "axis": {"orient": "left", "title": null, "labels": false, "domain": false, "tickSize": 5, "values": [0,4,8,12,16,20,24,28,32,36,40,44,48,52,56,60,64,68,72,76,80,84,88,92,96,100]}},
    "text": {"field": "t"}}},
  {"data": {"values": [{"t": "HPC", "x": 39.53, "y": 86.5}]}, "mark": {"type": "text", "align": "right", "baseline": "middle"},
   "encoding": {"x": {"field": "x", "type": "quantitative", "axis": null}, "y": {"field": "y", "type": "quantitative", "axis": null}, "text": {"field": "t"}}}
 ]},
 {"width": 787, "height": 220, "resolve": {"axis": {"x": "independent", "y": "independent"}}, "layer": [
  {"data": {"name": "d"}, "mark": {"type": "line", "color": "#FFC000", "strokeWidth": 1.2},
   "encoding": {
    "x": {"field": "x", "type": "quantitative", "scale": {"domain": [5, 40], "nice": false, "zero": false}, "axis": {"title": "Degrees 2-Theta", "values": [5,10,15,20,25,30,35,40], "tickSize": 8}},
    "y": {"field": "y", "type": "quantitative", "scale": {"domain": [0, 80], "nice": false}, "axis": {"title": "Counts", "values": [0,10,20,30,40,50,60,70,80]}}
   }},
  {"data": {"values": [{"t": "(d)", "x": 6.3, "y": 68.9}]}, "mark": {"type": "text", "align": "left", "baseline": "middle"},
   "encoding": {
    "x": {"field": "x", "type": "quantitative", "axis": {"orient": "bottom", "title": null, "labels": false, "domain": false, "tickSize": 5, "values": [5,6,7,8,9,10,11,12,13,14,15,16,17,18,19,20,21,22,23,24,25,26,27,28,29,30,31,32,33,34,35,36,37,38,39,40]}},
    "y": {"field": "y", "type": "quantitative", "axis": {"orient": "left", "title": null, "labels": false, "domain": false, "tickSize": 5, "values": [0,2,4,6,8,10,12,14,16,18,20,22,24,26,28,30,32,34,36,38,40,42,44,46,48,50,52,54,56,58,60,62,64,66,68,70,72,74,76,78,80]}},
    "text": {"field": "t"}}},
  {"data": {"values": [{"t": "PVP", "x": 39.4, "y": 70.4}]}, "mark": {"type": "text", "align": "right", "baseline": "middle"},
   "encoding": {"x": {"field": "x", "type": "quantitative", "axis": null}, "y": {"field": "y", "type": "quantitative", "axis": null}, "text": {"field": "t"}}}
 ]},
 {"width": 787, "height": 220, "resolve": {"axis": {"x": "independent", "y": "independent"}}, "layer": [
  {"data": {"name": "e"}, "mark": {"type": "line", "color": "#7030A0", "strokeWidth": 1.3},
   "encoding": {
    "x": {"field": "x", "type": "quantitative", "scale": {"domain": [5, 40], "nice": false, "zero": false}, "axis": {"title": "Degrees 2-Theta", "values": [5,10,15,20,25,30,35,40], "tickSize": 8}},
    "y": {"field": "y", "type": "quantitative", "scale": {"domain": [0, 700], "nice": false}, "axis": {"title": "Counts", "values": [0,100,200,300,400,500,600,700]}}
   }},
  {"data": {"values": [{"t": "(e)", "x": 6.33, "y": 611}]}, "mark": {"type": "text", "align": "left", "baseline": "middle"},
   "encoding": {
    "x": {"field": "x", "type": "quantitative", "axis": {"orient": "bottom", "title": null, "labels": false, "domain": false, "tickSize": 5, "values": [5,6,7,8,9,10,11,12,13,14,15,16,17,18,19,20,21,22,23,24,25,26,27,28,29,30,31,32,33,34,35,36,37,38,39,40]}},
    "y": {"field": "y", "type": "quantitative", "axis": {"orient": "left", "title": null, "labels": false, "domain": false, "tickSize": 5, "values": [0,20,40,60,80,100,120,140,160,180,200,220,240,260,280,300,320,340,360,380,400,420,440,460,480,500,520,540,560,580,600,620,640,660,680,700]}},
    "text": {"field": "t"}}},
  {"data": {"values": [{"t": "CPC", "x": 39.44, "y": 617}]}, "mark": {"type": "text", "align": "right", "baseline": "middle"},
   "encoding": {"x": {"field": "x", "type": "quantitative", "axis": null}, "y": {"field": "y", "type": "quantitative", "axis": null}, "text": {"field": "t"}}}
 ]}
]
}
